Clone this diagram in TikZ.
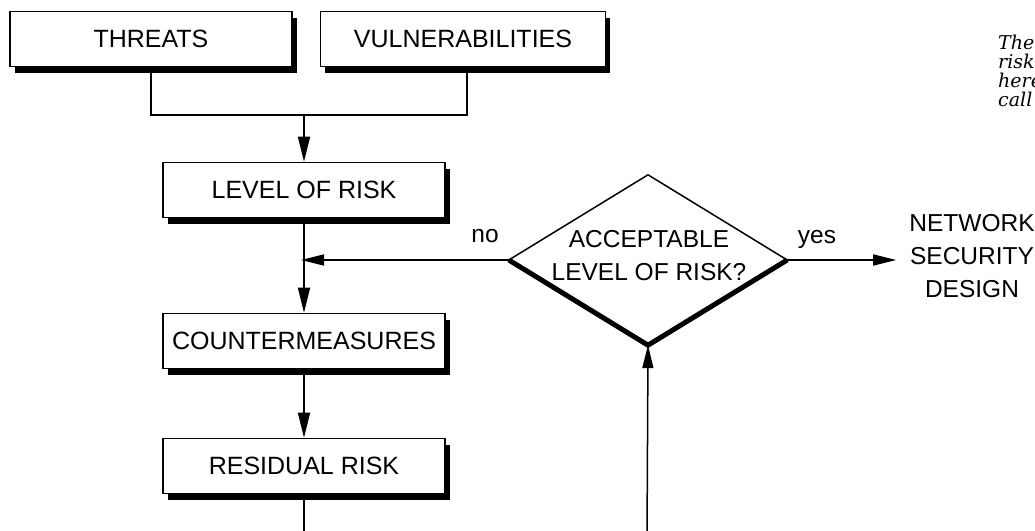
\documentclass[tikz,border=0pt]{standalone}
\usepackage{fontspec}
\setmainfont{Liberation Sans}
\newfontfamily\noteserif{DejaVu Serif}
\usetikzlibrary{shapes.geometric,shadows,arrows.meta,calc}
\begin{document}
\begin{tikzpicture}[x=1pt,y=-1pt,
  box/.style={draw, line width=1.6pt, fill=white, minimum width=282pt, minimum height=55pt,
    inner sep=0pt, font=\fontsize{25}{30}\selectfont,
    drop shadow={shadow xshift=4.5pt, shadow yshift=-6pt, fill=black, opacity=1}},
  conn/.style={line width=1.8pt},
  arr/.style={conn, -{Triangle[length=25pt,width=12pt]}},
  thinarr/.style={line width=1.5pt, -{Triangle[length=23pt,width=11pt]}},
  lbl/.style={font=\fontsize{24.5}{33}\selectfont, inner sep=0pt, align=center},
  notefont/.style={font=\noteserif\itshape\fontsize{19}{19}\selectfont}]
\useasboundingbox (0,0) rectangle (1035,530);
\clip (0,0) rectangle (1035,530);

% boxes
\node[box] (threats) at (151,39) {THREATS};
\node[box, minimum width=285pt] (vuln) at (463,39) {VULNERABILITIES};
\node[box] (level) at (304,190) {LEVEL OF RISK};
\node[box] (counter) at (304,341) {COUNTERMEASURES};
\node[box] (resid) at (304,466) {RESIDUAL RISK};

% decision
\node[diamond, minimum width=278pt, minimum height=170pt, inner sep=0pt] (dia) at (648,260) {};
\draw[line width=1.5pt, line join=round] (dia.west) -- (dia.north) -- (dia.east);
\draw[line width=5pt, line join=miter] (dia.west) -- (dia.south) -- (dia.east);
\node[lbl] (q) at (649,256) {ACCEPTABLE\\LEVEL OF RISK?};

% outcome and labels
\node[lbl, inner xsep=13pt] (net) at (972,256) {NETWORK\\SECURITY\\DESIGN};
\node[lbl, anchor=base] (no) at (485,242) {no};
\node[lbl, anchor=base] (yes) at (817,243) {yes};
\node[notefont, anchor=north west, inner sep=0pt, align=left] (note) at (998,35) {The\\risk\\here\\call};

% connectors
\coordinate (j) at (304,115);
\draw[conn] (threats.south) |- (j) -| ([xshift=4pt]vuln.south);
\draw[arr] (j) -- (level.north);
\draw[arr] (level.south) -- (counter.north);
\draw[arr] (counter.south) -- (resid.north);
\coordinate (b1) at (304,540);
\draw[conn] (resid.south) -- (b1);
\draw[thinarr, shorten >=-3pt] (dia.west) -- (dia.west -| level.south);
\coordinate (b2) at (647,540);
\draw[thinarr] (b2) -- (dia.south);
\draw[thinarr] (dia.east) -- (dia.east -| net.west);
\end{tikzpicture}
\end{document}
